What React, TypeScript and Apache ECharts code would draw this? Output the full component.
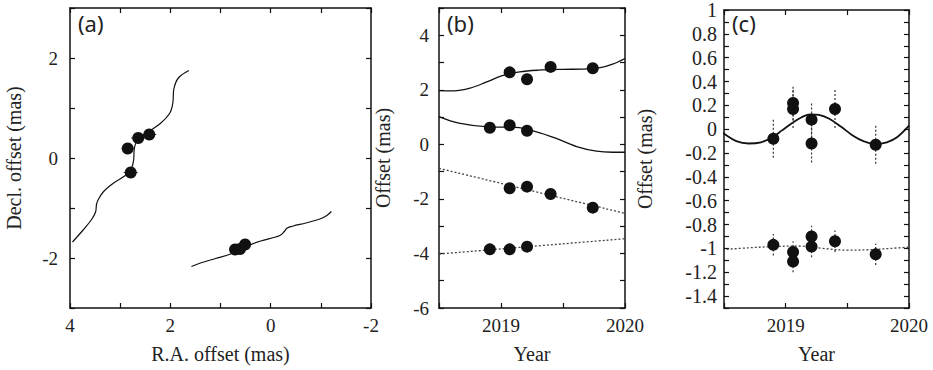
import React, { useEffect, useRef } from "react";
import * as echarts from "echarts";

// ---------- Panel (a): sky tracks (R.A. offset, Decl. offset) ----------
const aTrack1: number[][] = [
  [3.95, -1.68], [3.73, -1.43], [3.57, -1.23], [3.49, -1.08], [3.47, -0.92],
  [3.43, -0.82], [3.33, -0.67], [3.13, -0.5], [2.87, -0.33], [2.77, -0.2],
  [2.73, -0.03], [2.72, 0.17], [2.67, 0.33], [2.47, 0.5], [2.2, 0.69],
  [2.01, 0.9], [1.95, 1.1], [1.93, 1.38], [1.84, 1.6], [1.63, 1.75],
];
const aTrack2: number[][] = [
  [1.58, -2.17], [1.4, -2.1], [1.1, -2.01], [0.8, -1.92], [0.5, -1.77],
  [0.2, -1.66], [-0.1, -1.58], [-0.2, -1.54], [-0.27, -1.47], [-0.33, -1.4],
  [-0.45, -1.36], [-0.7, -1.3], [-0.98, -1.22], [-1.12, -1.15], [-1.21, -1.07],
];
const aPts1: number[][] = [[2.85, 0.19], [2.64, 0.4], [2.42, 0.47], [2.79, -0.29]];
const aPts1Err: number[] = [0.12, 0.14, 0.14, 0.14];
const aPts2: number[][] = [[0.71, -1.83], [0.61, -1.82], [0.51, -1.73]];

// ---------- Panel (b): offsets vs year ----------
const bCurve1: number[][] = [
  [2018.5, 1.97], [2018.62, 1.96], [2018.75, 2.06], [2018.88, 2.28], [2019.01, 2.52],
  [2019.15, 2.66], [2019.3, 2.72], [2019.5, 2.75], [2019.66, 2.76], [2019.8, 2.81],
  [2019.9, 2.94], [2020, 3.15],
];
const bCurve2: number[][] = [
  [2018.5, 1.02], [2018.66, 0.78], [2018.9, 0.64], [2019.12, 0.62], [2019.28, 0.47],
  [2019.44, 0.23], [2019.61, -0.08], [2019.77, -0.25], [2019.9, -0.29], [2020, -0.29],
];
const bLine3: number[][] = [[2018.5, -0.88], [2020, -2.53]];
const bLine4: number[][] = [[2018.5, -4.02], [2020, -3.46]];
const bPts1: number[][] = [[2019.07, 2.64], [2019.21, 2.39], [2019.4, 2.84], [2019.74, 2.79]];
const bPts2: number[][] = [[2018.91, 0.61], [2019.07, 0.7], [2019.21, 0.5]];
const bPts3: number[][] = [[2019.07, -1.61], [2019.21, -1.55], [2019.4, -1.82], [2019.74, -2.32]];
const bPts4: number[][] = [[2018.91, -3.85], [2019.07, -3.85], [2019.21, -3.75]];

// ---------- Panel (c): residual offsets vs year ----------
const cCurve1: number[][] = [
  [2018.49, -0.03], [2018.6, -0.1], [2018.7, -0.12], [2018.8, -0.11], [2018.89, -0.07],
  [2018.97, -0.01], [2019.05, 0.05], [2019.13, 0.1], [2019.2, 0.125], [2019.27, 0.12],
  [2019.35, 0.09], [2019.45, 0.02], [2019.54, -0.05], [2019.63, -0.1], [2019.73, -0.125],
  [2019.82, -0.11], [2019.9, -0.07], [2020, 0.03],
];
const cCurve2: number[][] = [
  [2018.49, -1.01], [2018.7, -0.995], [2018.9, -0.985], [2019.1, -0.98], [2019.3, -1.0],
  [2019.5, -1.015], [2019.7, -1.01], [2019.85, -1.0], [2020, -0.99],
];
const cPts1: number[][] = [
  [2018.9, -0.08], [2019.06, 0.22], [2019.06, 0.17], [2019.21, 0.08], [2019.21, -0.12],
  [2019.4, 0.17], [2019.73, -0.13],
];
const cPts1Err: number[] = [0.16, 0.15, 0.16, 0.15, 0.16, 0.16, 0.16];
const cPts2: number[][] = [
  [2018.9, -0.97], [2019.06, -1.03], [2019.06, -1.11], [2019.21, -0.9], [2019.21, -0.985],
  [2019.4, -0.94], [2019.73, -1.05],
];
const cPts2Err: number[] = [0.09, 0.09, 0.09, 0.09, 0.09, 0.09, 0.09];

const SERIF = "Liberation Serif";
const TEXT = "#222";

function fmtEven(v: number) {
  const r = Math.round(v);
  return r % 2 === 0 ? String(r) : "";
}
function fmtYear(v: number) {
  return Math.abs(v - Math.round(v)) < 1e-6 ? String(Math.round(v)) : "";
}
function fmtTenth(v: number) {
  const t = Math.round(v * 10);
  if (t % 2 !== 0) return "";
  if (t === 0) return "0";
  if (t % 10 === 0) return String(t / 10);
  return (t / 10).toFixed(1);
}

function axisLine() {
  return { show: true, onZero: false, lineStyle: { color: "#111", width: 1.5 } };
}
function axisTick() {
  return { show: true, inside: true, length: 5, lineStyle: { color: "#111", width: 1.2 } };
}
function labelStyle(fs: number, margin: number, fmt: (v: number) => string) {
  return {
    show: true, formatter: fmt, color: TEXT, fontFamily: SERIF, fontSize: fs,
    margin, showMinLabel: true, showMaxLabel: true,
  };
}

function xPair(grid: number, min: number, max: number, interval: number, fmt: (v: number) => string, name: string, inverse = false) {
  return [
    {
      type: "value", gridIndex: grid, min, max, interval, inverse, position: "bottom",
      axisLine: axisLine(), axisTick: axisTick(), splitLine: { show: false },
      axisLabel: labelStyle(19, 8, fmt),
      name, nameLocation: "middle", nameGap: 36,
      nameTextStyle: { color: TEXT, fontFamily: SERIF, fontSize: 20 },
    },
    {
      type: "value", gridIndex: grid, min, max, interval, inverse, position: "top",
      axisLine: axisLine(), axisTick: axisTick(), splitLine: { show: false }, axisLabel: { show: false },
    },
  ];
}
function yPair(grid: number, min: number, max: number, interval: number, fmt: (v: number) => string, name: string, gap: number, fs: number, margin: number) {
  return [
    {
      type: "value", gridIndex: grid, min, max, interval, position: "left",
      axisLine: axisLine(), axisTick: axisTick(), splitLine: { show: false },
      axisLabel: labelStyle(fs, margin, fmt),
      name, nameLocation: "middle", nameGap: gap, nameRotate: 90,
      nameTextStyle: { color: TEXT, fontFamily: SERIF, fontSize: 20 },
    },
    {
      type: "value", gridIndex: grid, min, max, interval, position: "right",
      axisLine: axisLine(), axisTick: axisTick(), splitLine: { show: false }, axisLabel: { show: false },
    },
  ];
}

function lineSeries(data: number[][], xi: number, yi: number, dotted: boolean, width = 1.3) {
  return {
    type: "line", xAxisIndex: xi, yAxisIndex: yi, data, smooth: 0.35, showSymbol: false,
    symbol: "none", silent: true, z: 2,
    lineStyle: { color: dotted ? "#444" : "#111", width, type: dotted ? [2, 2] : "solid" },
  };
}
function scatterSeries(data: number[][], xi: number, yi: number, size = 12) {
  return {
    type: "scatter", xAxisIndex: xi, yAxisIndex: yi, data, symbolSize: size, z: 5,
    itemStyle: { color: "#111", opacity: 1 },
  };
}
function vErrSeries(pts: number[][], err: number[], xi: number, yi: number) {
  const data = pts.map((p, i) => [p[0], p[1] - err[i], p[1] + err[i]]);
  return {
    type: "custom", xAxisIndex: xi, yAxisIndex: yi, data, z: 3, silent: true,
    encode: { x: 0, y: [1, 2] },
    renderItem: (params: any, api: any) => {
      const a = api.coord([api.value(0), api.value(1)]);
      const b = api.coord([api.value(0), api.value(2)]);
      return {
        type: "line",
        shape: { x1: a[0], y1: a[1], x2: b[0], y2: b[1] },
        style: { stroke: "#333", lineWidth: 1.2, lineDash: [2, 2] },
      };
    },
  };
}
function hErrSeries(pts: number[][], err: number[], xi: number, yi: number) {
  const data = pts.map((p, i) => [p[0] - err[i], p[0] + err[i], p[1]]);
  return {
    type: "custom", xAxisIndex: xi, yAxisIndex: yi, data, z: 3, silent: true,
    encode: { x: [0, 1], y: 2 },
    renderItem: (params: any, api: any) => {
      const a = api.coord([api.value(0), api.value(2)]);
      const b = api.coord([api.value(1), api.value(2)]);
      return {
        type: "line",
        shape: { x1: a[0], y1: a[1], x2: b[0], y2: b[1] },
        style: { stroke: "#333", lineWidth: 1 },
      };
    },
  };
}

export default function App() {
  const ref = useRef<HTMLDivElement>(null);
  useEffect(() => {
    if (!ref.current) return;
    const chart = echarts.init(ref.current, undefined, { renderer: "svg" });
    const option: any = {
      animation: false,
      backgroundColor: "#fff",
      grid: [
        { left: 70, top: 8, width: 301, height: 300 },
        { left: 439, top: 8, width: 186, height: 300 },
        { left: 724, top: 8, width: 185, height: 300 },
      ],
      xAxis: [
        ...xPair(0, -2, 4, 1, fmtEven, "R.A. offset (mas)", true),
        ...xPair(1, 2018.5, 2020, 0.5, fmtYear, "Year"),
        ...xPair(2, 2018.5, 2020, 0.5, fmtYear, "Year"),
      ],
      yAxis: [
        ...yPair(0, -3, 3, 1, fmtEven, "Decl. offset (mas)", 46, 19, 12),
        ...yPair(1, -6, 5, 1, fmtEven, "Offset (mas)", 46, 19, 10),
        ...yPair(2, -1.5, 1, 0.1, fmtTenth, "Offset (mas)", 69, 20, 7),
      ],
      graphic: [
        { type: "text", left: 78, top: 12, style: { text: "(a)", font: "22px 'Noto Sans'", fill: TEXT } },
        { type: "text", left: 447, top: 12, style: { text: "(b)", font: "22px 'Noto Sans'", fill: TEXT } },
        { type: "text", left: 732, top: 12, style: { text: "(c)", font: "22px 'Noto Sans'", fill: TEXT } },
      ],
      series: [
        lineSeries(aTrack1, 0, 0, false, 1.2),
        lineSeries(aTrack2, 0, 0, false, 1.2),
        hErrSeries(aPts1, aPts1Err, 0, 0),
        scatterSeries(aPts1, 0, 0),
        scatterSeries(aPts2, 0, 0),

        lineSeries(bCurve1, 2, 2, false),
        lineSeries(bCurve2, 2, 2, false),
        lineSeries(bLine3, 2, 2, true),
        lineSeries(bLine4, 2, 2, true),
        scatterSeries(bPts1, 2, 2),
        scatterSeries(bPts2, 2, 2),
        scatterSeries(bPts3, 2, 2),
        scatterSeries(bPts4, 2, 2),

        lineSeries(cCurve1, 4, 4, false, 1.8),
        lineSeries(cCurve2, 4, 4, true, 1.3),
        vErrSeries(cPts1, cPts1Err, 4, 4),
        vErrSeries(cPts2, cPts2Err, 4, 4),
        scatterSeries(cPts1, 4, 4),
        scatterSeries(cPts2, 4, 4),
      ],
    };
    chart.setOption(option);
    return () => chart.dispose();
  }, []);
  return (
    <div
      ref={ref}
      style={{ position: "absolute", left: 0, top: 0, width: 933, height: 370, background: "#fff" }}
    />
  );
}
